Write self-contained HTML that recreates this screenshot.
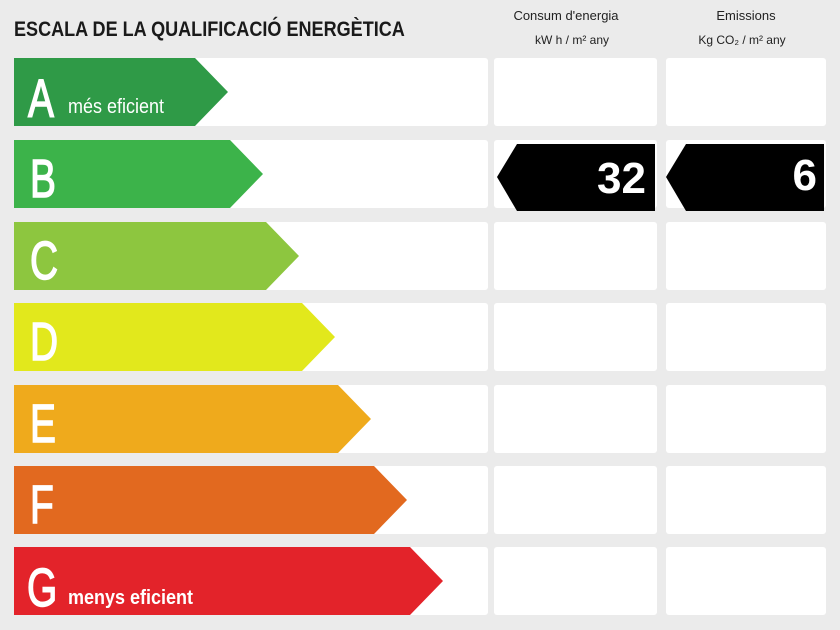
<!DOCTYPE html>
<html><head><meta charset="utf-8"><style>
body{margin:0;background:#ebebeb;}
svg{display:block}
text{font-family:"Liberation Sans Narrow","Liberation Sans",sans-serif;}
</style></head><body>
<svg width="840" height="630" viewBox="0 0 840 630">
<rect width="840" height="630" fill="#ebebeb"/>
<text x="14" y="36" font-size="21" font-weight="bold" fill="#1a1a1a" transform="translate(14 0) scale(0.86 1) translate(-14 0)">ESCALA DE LA QUALIFICACIÓ ENERGÈTICA</text>
<text x="566" y="20" font-size="13" fill="#222" text-anchor="middle">Consum d'energia</text>
<text x="572" y="44" font-size="12" fill="#222" text-anchor="middle">kW h / m² any</text>
<text x="746" y="20" font-size="13" fill="#222" text-anchor="middle">Emissions</text>
<text x="742" y="44" font-size="12" fill="#222" text-anchor="middle">Kg CO₂ / m² any</text>
<g fill="#fff">
<rect x="14" y="58" width="474" height="68" rx="3"/><rect x="494" y="58" width="163" height="68" rx="3"/><rect x="666" y="58" width="160" height="68" rx="3"/>
<rect x="14" y="140" width="474" height="68" rx="3"/><rect x="494" y="140" width="163" height="68" rx="3"/><rect x="666" y="140" width="160" height="68" rx="3"/>
<rect x="14" y="222" width="474" height="68" rx="3"/><rect x="494" y="222" width="163" height="68" rx="3"/><rect x="666" y="222" width="160" height="68" rx="3"/>
<rect x="14" y="303" width="474" height="68" rx="3"/><rect x="494" y="303" width="163" height="68" rx="3"/><rect x="666" y="303" width="160" height="68" rx="3"/>
<rect x="14" y="385" width="474" height="68" rx="3"/><rect x="494" y="385" width="163" height="68" rx="3"/><rect x="666" y="385" width="160" height="68" rx="3"/>
<rect x="14" y="466" width="474" height="68" rx="3"/><rect x="494" y="466" width="163" height="68" rx="3"/><rect x="666" y="466" width="160" height="68" rx="3"/>
<rect x="14" y="547" width="474" height="68" rx="3"/><rect x="494" y="547" width="163" height="68" rx="3"/><rect x="666" y="547" width="160" height="68" rx="3"/>
</g>
<polygon points="14,58 195,58 228,92 195,126 14,126" fill="#2f9a47"/>
<polygon points="14,140 230,140 263,174 230,208 14,208" fill="#3cb34a"/>
<polygon points="14,222 266,222 299,256 266,290 14,290" fill="#8dc63f"/>
<polygon points="14,303 302,303 335,337 302,371 14,371" fill="#e2e81c"/>
<polygon points="14,385 338,385 371,419 338,453 14,453" fill="#efaa1c"/>
<polygon points="14,466 374,466 407,500 374,534 14,534" fill="#e2691f"/>
<polygon points="14,547 410,547 443,581 410,615 14,615" fill="#e3232a"/>
<g fill="#fff" stroke="#fff" stroke-width="1.5" font-size="54">
<text x="28" y="117" transform="translate(28 0) scale(0.72 1) translate(-28 0)">A</text>
<text x="30" y="197" transform="translate(30 0) scale(0.72 1) translate(-30 0)">B</text>
<text x="30" y="279" transform="translate(30 0) scale(0.72 1) translate(-30 0)">C</text>
<text x="30" y="360" transform="translate(30 0) scale(0.72 1) translate(-30 0)">D</text>
<text x="30" y="442" transform="translate(30 0) scale(0.72 1) translate(-30 0)">E</text>
<text x="30" y="523" transform="translate(30 0) scale(0.72 1) translate(-30 0)">F</text>
<text x="27" y="606" transform="translate(27 0) scale(0.72 1) translate(-27 0)">G</text>
</g>
<text x="68" y="113" font-size="20" fill="#fff" transform="translate(68 0) scale(0.9 1) translate(-68 0)">més eficient</text>
<text x="68" y="604" font-size="20" fill="#fff" font-weight="bold" transform="translate(68 0) scale(0.9 1) translate(-68 0)">menys eficient</text>
<polygon points="497,177 517,144 655,144 655,211 517,211" fill="#000"/>
<polygon points="666,177 686,144 824,144 824,211 686,211" fill="#000"/>
<text x="646" y="193" font-size="44" font-weight="bold" fill="#fff" text-anchor="end">32</text>
<text x="817" y="190" font-size="44" font-weight="bold" fill="#fff" text-anchor="end">6</text>
</svg>
</body></html>
